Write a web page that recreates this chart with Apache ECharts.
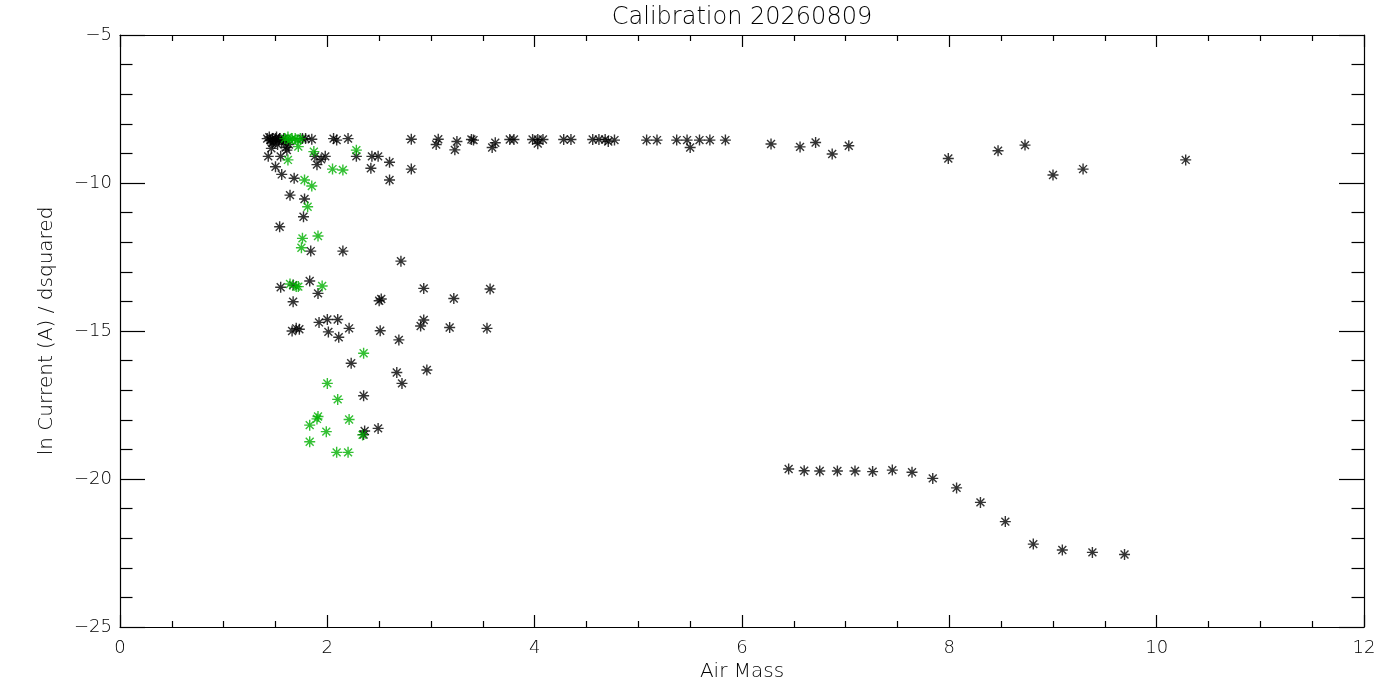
<!DOCTYPE html>
<html>
<head>
<meta charset="utf-8">
<script src="https://cdn.jsdelivr.net/npm/echarts@6/dist/echarts.min.js"></script>
<style>
html,body{margin:0;padding:0;background:#fff;}
#chart{width:1400px;height:700px;}
</style>
</head>
<body>
<div id="chart"></div>
<script>
var titleText = 'Calibration 20260809';
var xAxisName = 'Air Mass';
var yAxisName = 'ln Current (A) / dsquared';

var blackPoints = [
  [1.42,-8.5],[1.44,-8.45],[1.45,-8.55],[1.47,-8.5],[1.48,-8.6],[1.5,-8.5],[1.51,-8.45],[1.53,-8.55],
  [1.54,-8.5],[1.56,-8.6],[1.58,-8.5],[1.6,-8.55],[1.47,-8.65],[1.52,-8.7],[1.46,-8.83],[1.43,-9.1],
  [1.55,-9.1],[1.5,-9.45],[1.56,-9.71],[1.61,-8.89],[1.6,-8.8],[1.63,-8.7],[1.68,-9.84],
  [1.76,-8.5],[1.79,-8.5],[1.85,-8.52],[1.88,-9.1],[1.9,-9.38],[1.94,-9.2],[1.98,-9.1],[2.06,-8.5],
  [2.09,-8.55],[2.2,-8.5],[2.28,-9.1],[2.42,-9.5],[2.43,-9.1],[2.49,-9.1],[2.6,-9.3],[2.6,-9.9],
  [2.81,-9.53],[2.81,-8.52],[3.07,-8.52],[3.05,-8.7],[3.23,-8.88],[3.25,-8.6],[3.39,-8.53],[3.41,-8.55],
  [3.59,-8.8],[3.62,-8.64],[3.76,-8.53],[3.8,-8.53],[3.98,-8.53],[4.03,-8.53],[4.03,-8.67],[4.08,-8.53],
  [4.28,-8.53],[4.35,-8.53],[4.56,-8.53],[4.62,-8.53],[4.68,-8.53],[4.71,-8.6],[4.77,-8.55],[5.08,-8.55],
  [5.18,-8.55],[5.37,-8.55],[5.47,-8.55],[5.5,-8.8],[5.59,-8.55],[5.69,-8.55],[5.84,-8.55],[6.28,-8.68],
  [6.56,-8.78],[6.71,-8.63],[6.87,-9.02],[7.03,-8.74],[7.99,-9.17],[8.47,-8.91],[8.73,-8.72],[9.0,-9.73],
  [9.29,-9.53],[10.28,-9.22],
  [1.64,-10.41],[1.78,-10.54],[1.77,-11.14],[1.54,-11.48],[1.84,-12.3],[2.15,-12.3],[2.71,-12.64],
  [1.55,-13.52],[1.67,-13.45],[1.83,-13.31],[1.91,-13.73],[1.67,-14.01],[2.5,-13.98],[2.52,-13.92],
  [2.93,-13.56],[3.22,-13.9],[3.57,-13.58],
  [1.66,-15.0],[1.7,-14.91],[1.73,-14.94],[1.92,-14.71],[2.0,-14.61],[2.1,-14.61],[2.01,-15.03],
  [2.11,-15.21],[2.21,-14.91],[2.51,-14.99],[2.69,-15.3],[2.93,-14.63],[2.9,-14.83],[3.18,-14.88],
  [3.54,-14.91],
  [2.23,-16.09],[2.67,-16.4],[2.96,-16.32],[2.72,-16.77],[2.35,-17.19],[2.36,-18.38],[2.35,-18.5],
  [2.49,-18.29],
  [6.45,-19.66],[6.6,-19.72],[6.75,-19.73],[6.92,-19.73],[7.09,-19.73],[7.26,-19.75],[7.45,-19.7],
  [7.64,-19.77],[7.84,-19.98],[8.07,-20.3],[8.3,-20.79],[8.54,-21.44],[8.81,-22.2],[9.09,-22.4],
  [9.38,-22.48],[9.69,-22.55]
];

var greenPoints = [
  [1.59,-8.5],[1.62,-8.45],[1.64,-8.55],[1.66,-8.5],[1.69,-8.5],[1.71,-8.55],[1.74,-8.5],[1.72,-8.77],
  [1.62,-9.22],[1.87,-8.94],[2.28,-8.89],[2.05,-9.53],[2.15,-9.56],[1.78,-9.9],[1.85,-10.1],[1.81,-10.8],
  [1.76,-11.87],[1.91,-11.79],[1.75,-12.19],
  [1.64,-13.41],[1.7,-13.5],[1.72,-13.5],[1.95,-13.48],[2.35,-15.75],[2.0,-16.77],[2.1,-17.31],
  [1.91,-17.89],[1.9,-17.97],[1.83,-18.18],[2.21,-17.99],[1.99,-18.4],[2.34,-18.51],[1.83,-18.74],
  [2.09,-19.1],[2.2,-19.1]
];

var xTicks = {min: 0, max: 12, interval: 2};
var yTicks = {min: -25, max: -5, interval: 5};

var FONT = 'DejaVu Sans';
var star = 'path://M5,0L5,10M0,5L10,5M1.4,1.4L8.6,8.6M1.4,8.6L8.6,1.4';
function fmt(v){ return String(v).replace('-', '\u2212'); }

var chart = echarts.init(document.getElementById('chart'), null, {renderer: 'canvas'});

function xAx(pos, show){
  return {
    type: 'value', position: pos, min: xTicks.min, max: xTicks.max, interval: xTicks.interval,
    name: show ? xAxisName : '', nameLocation: 'middle', nameGap: 34,
    nameTextStyle: {fontFamily: FONT, fontSize: 20, color: '#000', fontWeight: 200},
    axisLine: {show: true, onZero: false, lineStyle: {color: '#000', width: 1.2}},
    axisTick: {show: true, inside: true, length: 12, lineStyle: {color: '#000', width: 1.2}},
    minorTick: {show: true, splitNumber: 4, length: 6, lineStyle: {color: '#000', width: 1.2}},
    axisLabel: {show: show, margin: 12, fontFamily: FONT, fontSize: 18, color: '#000', fontWeight: 200, formatter: fmt},
    splitLine: {show: false}
  };
}
function yAx(pos, show){
  return {
    type: 'value', position: pos, min: yTicks.min, max: yTicks.max, interval: yTicks.interval,
    name: show ? yAxisName : '', nameLocation: 'middle', nameGap: 63,
    nameTextStyle: {fontFamily: FONT, fontSize: 20, color: '#000', fontWeight: 200},
    axisLine: {show: true, onZero: false, lineStyle: {color: '#000', width: 1.2}},
    axisTick: {show: true, inside: true, length: 25, lineStyle: {color: '#000', width: 1.2}},
    minorTick: {show: true, splitNumber: 5, length: 12.5, lineStyle: {color: '#000', width: 1.2}},
    axisLabel: {show: show, margin: 8, fontFamily: FONT, fontSize: 18, color: '#000', fontWeight: 200, formatter: fmt},
    splitLine: {show: false}
  };
}

chart.setOption({
  backgroundColor: '#fff',
  animation: false,
  graphic: [{
    type: 'text', x: 742, y: 18,
    style: {text: titleText, font: '200 24px "DejaVu Sans"', fill: '#000', textAlign: 'center', textVerticalAlign: 'middle'}
  }],
  grid: {left: 120, right: 36, top: 35, bottom: 73, containLabel: false},
  xAxis: [xAx('bottom', true), xAx('top', false)],
  yAxis: [yAx('left', true), yAx('right', false)],
  series: [
    {
      type: 'scatter', xAxisIndex: 0, yAxisIndex: 0, data: blackPoints,
      symbol: star, symbolSize: 11,
      itemStyle: {color: 'rgba(0,0,0,0)', borderColor: '#000', borderWidth: 1.4}
    },
    {
      type: 'scatter', xAxisIndex: 0, yAxisIndex: 0, data: greenPoints,
      symbol: star, symbolSize: 11,
      itemStyle: {color: 'rgba(0,0,0,0)', borderColor: '#00b000', borderWidth: 1.4}
    }
  ]
});
</script>
</body>
</html>
